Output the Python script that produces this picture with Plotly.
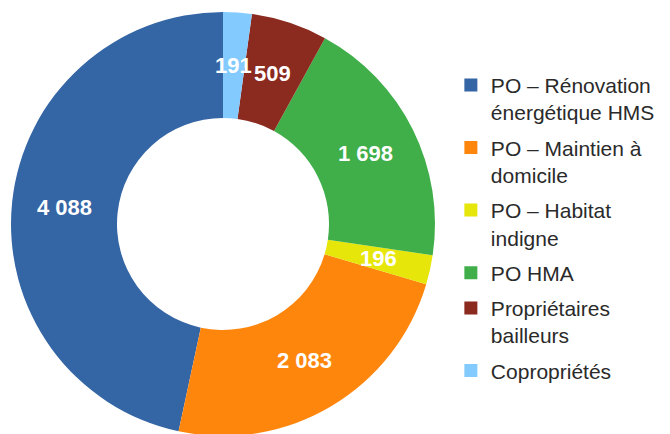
import math
import plotly.graph_objects as go

categories = [
    "PO – Rénovation<br>énergétique HMS",
    "PO – Maintien à<br>domicile",
    "PO – Habitat<br>indigne",
    "PO HMA",
    "Propriétaires<br>bailleurs",
    "Copropriétés",
]
values = [4088, 2083, 196, 1698, 509, 191]
colors = ["#3465a4", "#ff860d", "#e6e60a", "#40ae49", "#8b2a1f", "#83caff"]

W, H = 670, 434
ML, MR, MT, MB = 0, 0, 4, 6
DOM_X = (3 / W, 427 / W)
HOLE = 0.5

total = sum(values)
# Plotly's counterclockwise pies end the first slice at the rotation angle;
# shift so that the first slice starts at 12 o'clock as in the reference.
rotation = -360 * values[0] / total

fig = go.Figure()
fig.add_trace(go.Pie(
    labels=categories,
    values=values,
    hole=HOLE,
    sort=False,
    direction="counterclockwise",
    rotation=rotation,
    marker=dict(colors=colors, line=dict(width=0)),
    textinfo="none",
    domain=dict(x=list(DOM_X), y=[0, 1]),
    hoverinfo="label+value",
    showlegend=False,
))

# value labels at the middle of the ring, at each slice's mid-angle
plot_w = W - ML - MR
plot_h = H - MT - MB
radius_px = min((DOM_X[1] - DOM_X[0]) * plot_w, plot_h) / 2
r_mid = radius_px * (1 + HOLE) / 2
cx = (DOM_X[0] + DOM_X[1]) / 2
cy = 0.5
cum = 0
for v in values:
    mid = (cum + v / 2) / total
    cum += v
    theta = 2 * math.pi * mid  # counterclockwise from 12 o'clock
    ax = cx - math.sin(theta) * r_mid / plot_w
    ay = cy + math.cos(theta) * r_mid / plot_h
    fig.add_annotation(
        x=ax, y=ay, xref="paper", yref="paper",
        text=f"{v:,}".replace(",", " "),
        showarrow=False, xanchor="center", yanchor="middle",
        font=dict(family="Liberation Sans", size=22, color="white", weight="bold"),
    )

# legend entries (one group each so a gap can separate them)
for name, col in zip(categories, colors):
    fig.add_trace(go.Scatter(
        x=[None], y=[None], mode="markers", name=name,
        marker=dict(symbol="square", size=13, color=col),
        legendgroup=name, showlegend=True, hoverinfo="skip",
    ))

fig.update_layout(
    width=W, height=H,
    margin=dict(l=ML, r=MR, t=MT, b=MB),
    paper_bgcolor="white",
    plot_bgcolor="white",
    font=dict(family="Liberation Sans", size=21, color="#2a2a2a"),
    xaxis=dict(visible=False),
    yaxis=dict(visible=False),
    legend=dict(x=0.661, y=0.49, xanchor="left", yanchor="middle",
                font=dict(family="Liberation Sans", size=21, color="#2a2a2a"),
                valign="top", itemwidth=30, tracegroupgap=5),
    showlegend=True,
)

fig.write_html("out.html")
